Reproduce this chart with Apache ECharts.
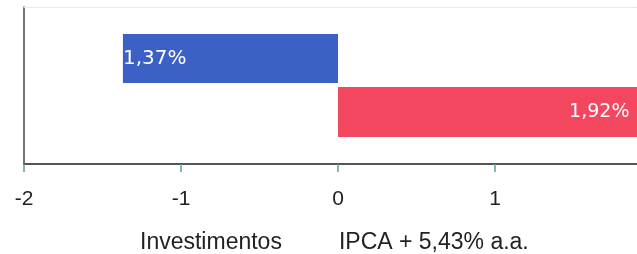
<!DOCTYPE html>
<html>
<head>
<meta charset="utf-8">
<script src="https://cdn.jsdelivr.net/npm/echarts@6/dist/echarts.min.js"></script>
<style>
  html, body { margin: 0; padding: 0; background: #fff; }
  #chart { width: 637px; height: 254px; }
</style>
</head>
<body>
<div id="chart"></div>
<script>
var categorias = [''];
var seriesNomes = ['Investimentos', 'IPCA + 5,43% a.a.'];
var investimentos = [-1.37];
var ipca = [1.92];
var cores = ['#3b60c6', '#f3475f'];

var myChart = echarts.init(document.getElementById('chart'));

function rotulo(p) {
    return Math.abs(p.value).toFixed(2).replace('.', ',') + '%';
}

var option = {
    animation: false,
    grid: { left: 24, top: 7, width: 628, height: 157, outerBoundsMode: 'none', containLabel: false },
    legend: {
        data: seriesNomes,
        top: 226,
        left: 130,
        icon: 'none',
        itemWidth: 0,
        itemGap: 52,
        textStyle: { fontFamily: 'Liberation Sans', fontSize: 23, color: '#222' }
    },
    xAxis: [{
        type: 'value',
        min: -2, max: 2, interval: 1,
        axisLine: { show: true, lineStyle: { color: '#555', width: 2 } },
        axisTick: { show: true, length: 8, lineStyle: { color: '#5a9fa0', width: 1.5 } },
        axisLabel: { margin: 25, fontFamily: 'Liberation Sans', fontSize: 21, color: '#222' },
        splitLine: { show: false }
    }, {
        type: 'value', position: 'top',
        min: -2, max: 2,
        axisLine: { show: true, lineStyle: { color: '#e6e6e6', type: 'dotted' } },
        axisTick: { show: false }, axisLabel: { show: false }, splitLine: { show: false }
    }],
    yAxis: {
        type: 'category',
        data: categorias,
        axisLine: { show: true, onZero: false, lineStyle: { color: '#444', width: 1.5 } },
        axisTick: { show: false },
        axisLabel: { show: false }
    },
    series: [{
        name: seriesNomes[0],
        type: 'bar',
        data: investimentos,
        barWidth: 49,
        barGap: '8%',
        itemStyle: { color: cores[0] },
        label: { show: true, position: 'insideLeft', distance: 0, formatter: rotulo,
                 fontFamily: 'DejaVu Sans', fontSize: 20, color: '#fff' }
    }, {
        name: seriesNomes[1],
        type: 'bar',
        data: ipca,
        barWidth: 50,
        barGap: '8%',
        itemStyle: { color: cores[1] },
        label: { show: true, position: 'insideRight', distance: 10, formatter: rotulo,
                 fontFamily: 'DejaVu Sans', fontSize: 19, color: '#fff' }
    }]
};
myChart.setOption(option);
</script>
</body>
</html>
